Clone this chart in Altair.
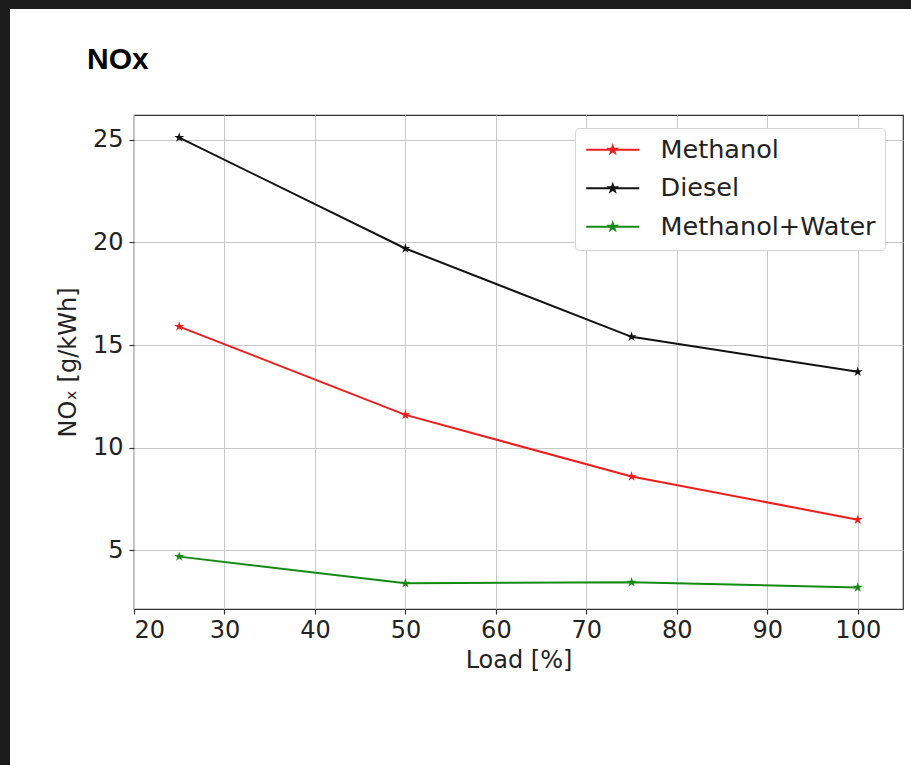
import altair as alt
import pandas as pd

# ---- data ----
load = [25, 50, 75, 100]
methanol = [15.9, 11.6, 8.6, 6.5]
diesel = [25.1, 19.7, 15.4, 13.7]
methanol_water = [4.7, 3.4, 3.45, 3.2]
series = ["Methanol", "Diesel", "Methanol+Water"]
colors = ["#ee1d1d", "#111111", "#148a14"]
x_ticks = [20, 30, 40, 50, 60, 70, 80, 90, 100]
y_ticks = [5, 10, 15, 20, 25]
title_text = "NOx"

rows = []
for name, vals in zip(series, [methanol, diesel, methanol_water]):
    for l, v in zip(load, vals):
        rows.append({"Load": l, "NOx": v, "Fuel": name})
df = pd.DataFrame(rows)

# star marker path (unit box)
star_pts = [(0, -1), (0.2245, -0.309), (0.951, -0.309), (0.363, 0.118), (0.588, 0.809),
            (0, 0.382), (-0.588, 0.809), (-0.363, 0.118), (-0.951, -0.309), (-0.2245, -0.309)]
STAR = "M" + "L".join(f"{x:.4f},{y:.4f}" for x, y in star_pts) + "Z"
s = 0.32
LEG = "M-2.41,0L2.41,0M" + "L".join(f"{x*s:.4f},{y*s:.4f}" for x, y in star_pts) + "Z"

W, H = 769, 494
PL, PT = 134, 115

font = "DejaVu Sans"

color_scale = alt.Scale(domain=series, range=colors)
xs = alt.Scale(domain=[20, 105], nice=False, zero=False)
ys = alt.Scale(domain=[2.15, 26.2], nice=False, zero=False)

legend = alt.Legend(
    title=None, orient="none", legendX=441, legendY=13,
    symbolType=LEG, symbolSize=484, symbolStrokeWidth=2,
    symbolOffset=16, labelOffset=35, labelLimit=400,
    labelFont=font, labelFontSize=25.5, labelColor="#222222",
    rowPadding=11.5, padding=9,
    fillColor="white", strokeColor="#d4d4d4", cornerRadius=4,
)

base = alt.Chart(df)

lines = base.mark_line(strokeWidth=2).encode(
    x=alt.X("Load:Q", scale=xs, title="Load [%]",
            axis=alt.Axis(values=x_ticks, format="d")),
    y=alt.Y("NOx:Q", scale=ys, title="NOₓ [g/kWh]",
            axis=alt.Axis(values=y_ticks, format="d")),
    color=alt.Color("Fuel:N", scale=color_scale, sort=series, legend=legend),
)

points = base.mark_point(shape=STAR, filled=True, size=110, opacity=1).encode(
    x=alt.X("Load:Q", scale=xs),
    y=alt.Y("NOx:Q", scale=ys),
    color=alt.Color("Fuel:N", scale=color_scale, sort=series, legend=legend),
)

# dark screenshot border (decoration only)
deco_df = pd.DataFrame({"t": [title_text]})
left_strip = alt.Chart(deco_df).mark_rect(color="#1b1b1b").encode(
    x=alt.value(-PL), x2=alt.value(-PL + 10), y=alt.value(-PT), y2=alt.value(765 - PT)
)
top_strip = alt.Chart(deco_df).mark_rect(color="#1b1b1b").encode(
    x=alt.value(-PL), x2=alt.value(911 - PL), y=alt.value(-PT), y2=alt.value(-PT + 9)
)
title = alt.Chart(deco_df).mark_text(
    font="Liberation Sans", fontSize=30, fontWeight="bold", color="#000000",
    align="left", baseline="alphabetic",
).encode(text="t:N", x=alt.value(-47), y=alt.value(-46))

chart = alt.layer(left_strip, top_strip, title, lines, points).properties(
    width=W, height=H,
    autosize=alt.AutoSizeParams(type="none"),
    padding={"left": PL, "top": PT, "right": 911 - PL - W, "bottom": 765 - PT - H},
    background="white",
).configure_view(
    stroke="#333333", strokeWidth=1.2
).configure_axis(
    labelFont=font, labelFontSize=24, labelColor="#222222",
    titleFont=font, titleFontSize=24, titleColor="#222222", titleFontWeight="normal",
    gridColor="#c8c8c8", gridWidth=1, domain=False,
    tickColor="#333333", tickSize=5, tickWidth=1.2,
).configure_axisX(
    labelPadding=4, titlePadding=6,
).configure_axisY(
    labelPadding=6, titlePadding=12,
)

chart.save("out.html", embed_options={"renderer": "svg", "actions": False})
